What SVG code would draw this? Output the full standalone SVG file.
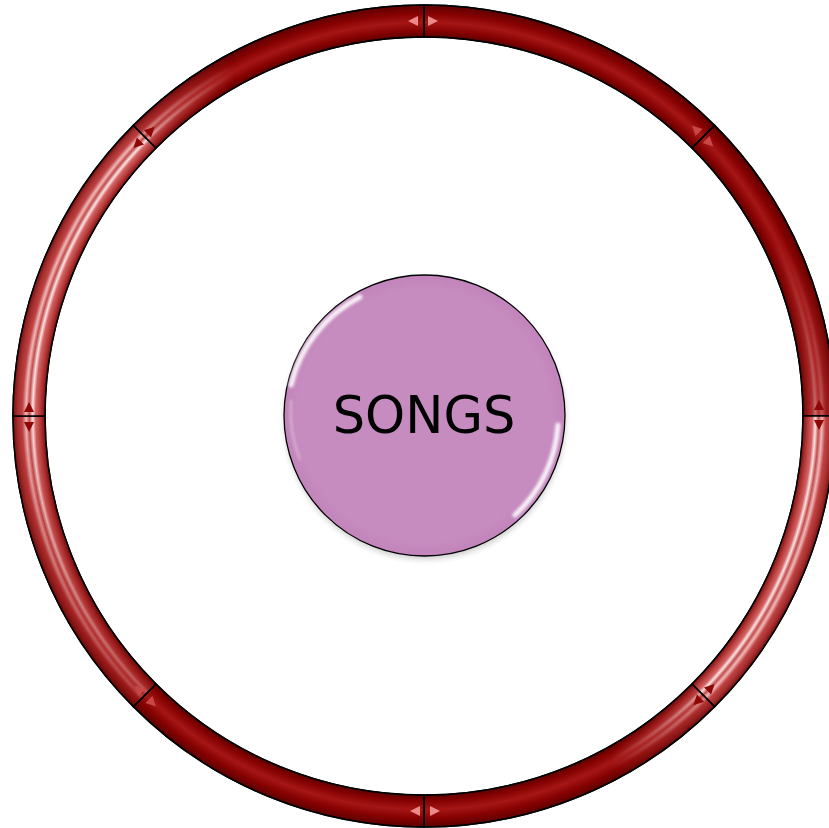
<svg xmlns="http://www.w3.org/2000/svg" width="829" height="828" viewBox="0 0 829 828">
<style>
.seg{stroke:#000;stroke-width:1.5;stroke-linejoin:round}
.dark{fill:url(#gDark)}
.light{fill:url(#gLight);stroke:none}
.tl{fill:#ec8a8a}
.tm{fill:#c84646}
.td{fill:#8e0606}
.label{font-family:"DejaVu Sans",Verdana,sans-serif;font-size:51px;fill:#000;text-anchor:middle}
</style>
<defs>
<radialGradient id="gDark" gradientUnits="userSpaceOnUse" cx="424" cy="416" r="411">
<stop offset="0.922" stop-color="#5a0000"/>
<stop offset="0.935" stop-color="#820000"/>
<stop offset="0.958" stop-color="#a51616"/>
<stop offset="0.978" stop-color="#880202"/>
<stop offset="1" stop-color="#5e0000"/>
</radialGradient>
<radialGradient id="gLight" gradientUnits="userSpaceOnUse" cx="424" cy="416" r="411">
<stop offset="0.922" stop-color="#7a1010"/>
<stop offset="0.933" stop-color="#b43838"/>
<stop offset="0.945" stop-color="#d46464"/>
<stop offset="0.952" stop-color="#fbe4e4"/>
<stop offset="0.960" stop-color="#c44c4c"/>
<stop offset="0.968" stop-color="#f0b8b8"/>
<stop offset="0.977" stop-color="#c04444"/>
<stop offset="0.99" stop-color="#a22c2c"/>
<stop offset="1" stop-color="#741010"/>
</radialGradient>
<linearGradient id="mS6" gradientUnits="userSpaceOnUse" x1="0" y1="416" x2="0" y2="705">
<stop offset="0" stop-color="#fff" stop-opacity="1"/>
<stop offset="1" stop-color="#fff" stop-opacity="0.3"/>
</linearGradient>
<linearGradient id="mS8" gradientUnits="userSpaceOnUse" x1="135" y1="0" x2="235" y2="0">
<stop offset="0" stop-color="#fff" stop-opacity="0.8"/>
<stop offset="1" stop-color="#fff" stop-opacity="0"/>
</linearGradient>
<linearGradient id="mS4" gradientUnits="userSpaceOnUse" x1="714" y1="0" x2="610" y2="0">
<stop offset="0" stop-color="#fff" stop-opacity="0.8"/>
<stop offset="1" stop-color="#fff" stop-opacity="0"/>
</linearGradient>
<linearGradient id="mS2" gradientUnits="userSpaceOnUse" x1="0" y1="416" x2="0" y2="240">
<stop offset="0" stop-color="#fff" stop-opacity="0.45"/>
<stop offset="1" stop-color="#fff" stop-opacity="0"/>
</linearGradient>
<mask id="maskS6"><rect x="0" y="0" width="829" height="828" fill="url(#mS6)"/></mask>
<mask id="maskS8"><rect x="0" y="0" width="829" height="828" fill="url(#mS8)"/></mask>
<mask id="maskS4"><rect x="0" y="0" width="829" height="828" fill="url(#mS4)"/></mask>
<mask id="maskS2"><rect x="0" y="0" width="829" height="828" fill="url(#mS2)"/></mask>
<path id="triR" d="M428,16 L438,21 L428,26 Z"/>
<path id="triL" d="M418,16 L408,21 L418,26 Z"/>
<filter id="blur" x="-20%" y="-20%" width="140%" height="140%"><feGaussianBlur stdDeviation="1.6"/></filter>
<filter id="shadow" x="-20%" y="-20%" width="140%" height="140%"><feGaussianBlur stdDeviation="3"/></filter>
<radialGradient id="gCircle" cx="0.5" cy="0.5" r="0.5">
<stop offset="0.9" stop-color="#c68bbf"/>
<stop offset="1" stop-color="#c284bb"/>
</radialGradient>
</defs>
<rect width="829" height="828" fill="#fff"/>
<g id="cycle-arrows">
<g id="seg1"><path class="seg dark" d="M424,5 A411,411 0 0 1 714.62,125.38 L692,148 A379,379 0 0 0 424,37 Z"/></g>
<g id="seg2"><path class="seg dark" d="M714.62,125.38 A411,411 0 0 1 835,416 L803,416 A379,379 0 0 0 692,148 Z"/>
<path class="light" mask="url(#maskS2)" d="M714.62,125.38 A411,411 0 0 1 835,416 L803,416 A379,379 0 0 0 692,148 Z"/></g>
<g id="seg3"><path class="seg dark" d="M835,416 A411,411 0 0 1 714.62,706.62 L692,684 A379,379 0 0 0 803,416 Z"/>
<path class="light" d="M835,416 A411,411 0 0 1 714.62,706.62 L692,684 A379,379 0 0 0 803,416 Z"/></g>
<g id="seg4"><path class="seg dark" d="M714.62,706.62 A411,411 0 0 1 424,827 L424,795 A379,379 0 0 0 692,684 Z"/>
<path class="light" mask="url(#maskS4)" d="M714.62,706.62 A411,411 0 0 1 424,827 L424,795 A379,379 0 0 0 692,684 Z"/></g>
<g id="seg5"><path class="seg dark" d="M424,827 A411,411 0 0 1 133.38,706.62 L156,684 A379,379 0 0 0 424,795 Z"/></g>
<g id="seg6"><path class="seg dark" d="M133.38,706.62 A411,411 0 0 1 13,416 L45,416 A379,379 0 0 0 156,684 Z"/>
<path class="light" mask="url(#maskS6)" d="M133.38,706.62 A411,411 0 0 1 13,416 L45,416 A379,379 0 0 0 156,684 Z"/></g>
<g id="seg7"><path class="seg dark" d="M13,416 A411,411 0 0 1 133.38,125.38 L156,148 A379,379 0 0 0 45,416 Z"/>
<path class="light" d="M13,416 A411,411 0 0 1 133.38,125.38 L156,148 A379,379 0 0 0 45,416 Z"/></g>
<g id="seg8"><path class="seg dark" d="M133.38,125.38 A411,411 0 0 1 424,5 L424,37 A379,379 0 0 0 156,148 Z"/>
<path class="light" mask="url(#maskS8)" d="M133.38,125.38 A411,411 0 0 1 424,5 L424,37 A379,379 0 0 0 156,148 Z"/></g>
<g id="outlines" fill="none" stroke="#000" stroke-width="1.5">
<path d="M424,5 A411,411 0 0 1 835,416 A411,411 0 0 1 424,827 A411,411 0 0 1 13,416 A411,411 0 0 1 424,5 Z"/>
<circle cx="424" cy="416" r="379"/>
<path d="M424,5 L424,37 M714.62,125.38 L692,148 M803,416 L835,416 M714.62,706.62 L692,684 M424,827 L424,795 M133.38,706.62 L156,684 M13,416 L45,416 M133.38,125.38 L156,148"/>
</g>
<g id="bevels">
<use href="#triL" class="tl"/><use href="#triR" class="tl"/>
<use href="#triL" class="tm" transform="rotate(45 424 416)"/><use href="#triR" class="tm" transform="rotate(45 424 416)"/>
<use href="#triL" class="td" transform="rotate(90 424 416)"/><use href="#triR" class="td" transform="rotate(90 424 416)"/>
<use href="#triL" class="td" transform="rotate(135 424 416)"/><use href="#triR" class="td" transform="rotate(135 424 416)"/>
<use href="#triL" class="tl" transform="rotate(180 424 416)"/><use href="#triR" class="tl" transform="rotate(180 424 416)"/>
<use href="#triL" class="tm" transform="rotate(225 424 416)"/><use href="#triR" class="tm" transform="rotate(225 424 416)"/>
<use href="#triL" class="td" transform="rotate(270 424 416)"/><use href="#triR" class="td" transform="rotate(270 424 416)"/>
<use href="#triL" class="td" transform="rotate(315 424 416)"/><use href="#triR" class="td" transform="rotate(315 424 416)"/>
</g>
</g>
<g id="node-songs">
<circle cx="425" cy="419" r="140" fill="#000" opacity="0.22" filter="url(#shadow)"/>
<circle cx="424.5" cy="415.5" r="140.5" fill="url(#gCircle)" stroke="#000" stroke-width="1.3"/>
<path d="M291,385 A134,134 0 0 1 360,297" fill="none" stroke="#fff" stroke-width="5" stroke-linecap="round" opacity="0.9" filter="url(#blur)"/>
<path d="M558,425 A134,134 0 0 1 515,515" fill="none" stroke="#fff" stroke-width="5" stroke-linecap="round" opacity="0.9" filter="url(#blur)"/>
<path d="M291,400 A134,134 0 0 0 300,460" fill="none" stroke="#fff" stroke-width="2" opacity="0.4" filter="url(#blur)"/>
<text class="label" x="424" y="433">SONGS</text>
</g>
</svg>
